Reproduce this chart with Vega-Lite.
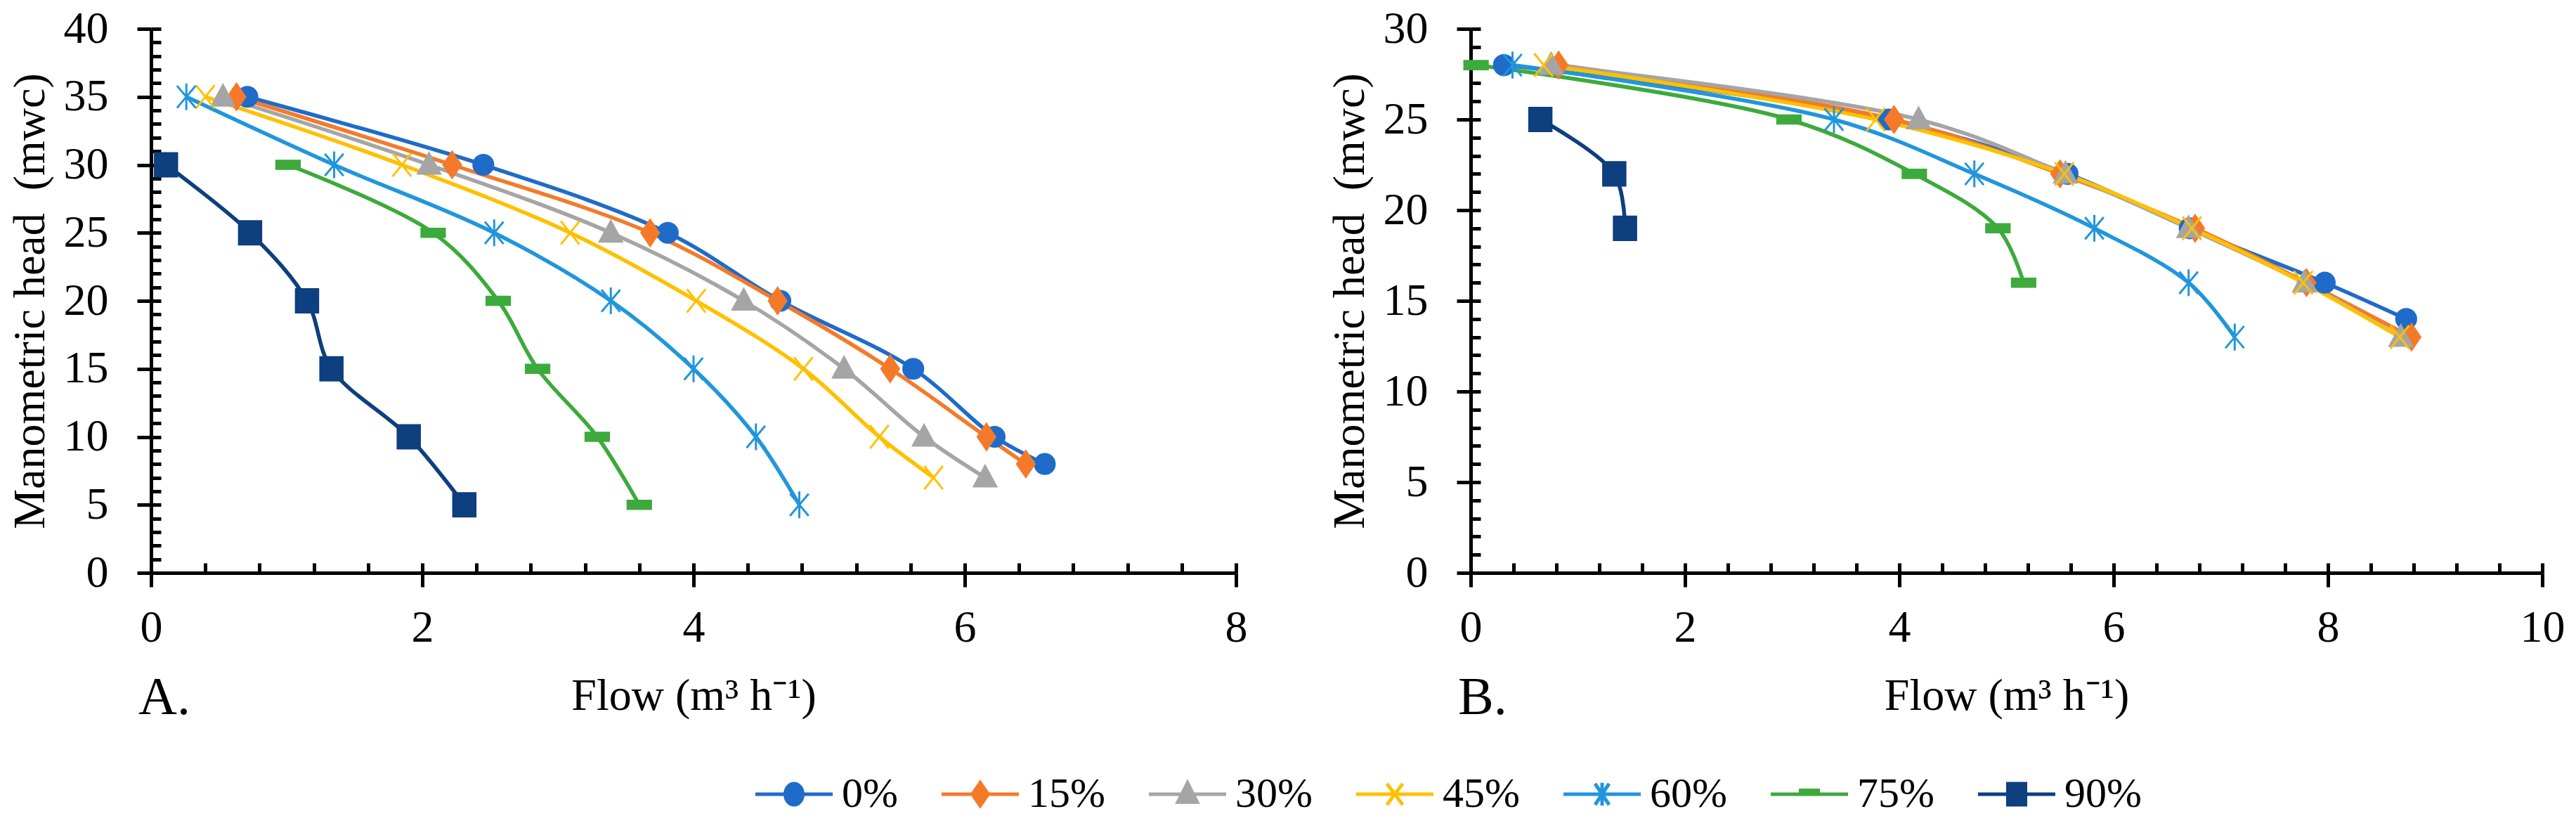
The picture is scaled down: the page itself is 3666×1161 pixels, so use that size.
{
  "$schema": "https://vega.github.io/schema/vega-lite/v6.json",
  "background": "white",
  "padding": {"left": 11, "top": 9, "right": 0, "bottom": 0},
  "config": {
    "view": {"stroke": null},
    "font": "Liberation Serif",
    "axis": {
      "grid": false,
      "domainColor": "black",
      "domainWidth": 5,
      "tickColor": "black",
      "tickWidth": 5,
      "labelColor": "black",
      "labelFont": "Liberation Serif",
      "labelFontSize": 64,
      "titleColor": "black",
      "titleFont": "Liberation Serif",
      "titleFontSize": 64,
      "titleFontWeight": "normal",
      "labelFlush": false,
      "labelOverlap": false
    },
    "title": {"font": "Liberation Serif", "fontSize": 76, "fontWeight": "normal", "color": "black"},
    "concat": {"spacing": 114}
  },
  "datasets": {
    "panelA": [
      {"series": "0%", "flow": 0.71, "head": 35}, {"series": "0%", "flow": 2.45, "head": 30}, {"series": "0%", "flow": 3.81, "head": 25}, {"series": "0%", "flow": 4.64, "head": 20}, {"series": "0%", "flow": 5.62, "head": 15}, {"series": "0%", "flow": 6.22, "head": 10}, {"series": "0%", "flow": 6.59, "head": 8},
      {"series": "15%", "flow": 0.63, "head": 35}, {"series": "15%", "flow": 2.22, "head": 30}, {"series": "15%", "flow": 3.68, "head": 25}, {"series": "15%", "flow": 4.62, "head": 20}, {"series": "15%", "flow": 5.45, "head": 15}, {"series": "15%", "flow": 6.16, "head": 10}, {"series": "15%", "flow": 6.45, "head": 8},
      {"series": "30%", "flow": 0.53, "head": 35}, {"series": "30%", "flow": 2.05, "head": 30}, {"series": "30%", "flow": 3.39, "head": 25}, {"series": "30%", "flow": 4.37, "head": 20}, {"series": "30%", "flow": 5.11, "head": 15}, {"series": "30%", "flow": 5.70, "head": 10}, {"series": "30%", "flow": 6.15, "head": 7},
      {"series": "45%", "flow": 0.40, "head": 35}, {"series": "45%", "flow": 1.85, "head": 30}, {"series": "45%", "flow": 3.09, "head": 25}, {"series": "45%", "flow": 4.02, "head": 20}, {"series": "45%", "flow": 4.81, "head": 15}, {"series": "45%", "flow": 5.37, "head": 10}, {"series": "45%", "flow": 5.77, "head": 7},
      {"series": "60%", "flow": 0.26, "head": 35}, {"series": "60%", "flow": 1.35, "head": 30}, {"series": "60%", "flow": 2.53, "head": 25}, {"series": "60%", "flow": 3.39, "head": 20}, {"series": "60%", "flow": 4.00, "head": 15}, {"series": "60%", "flow": 4.46, "head": 10}, {"series": "60%", "flow": 4.78, "head": 5},
      {"series": "75%", "flow": 1.01, "head": 30}, {"series": "75%", "flow": 2.08, "head": 25}, {"series": "75%", "flow": 2.56, "head": 20}, {"series": "75%", "flow": 2.85, "head": 15}, {"series": "75%", "flow": 3.29, "head": 10}, {"series": "75%", "flow": 3.60, "head": 5},
      {"series": "90%", "flow": 0.11, "head": 30}, {"series": "90%", "flow": 0.73, "head": 25}, {"series": "90%", "flow": 1.15, "head": 20}, {"series": "90%", "flow": 1.33, "head": 15}, {"series": "90%", "flow": 1.90, "head": 10}, {"series": "90%", "flow": 2.31, "head": 5}
    ],
    "panelB": [
      {"series": "0%", "flow": 0.31, "head": 28}, {"series": "0%", "flow": 3.90, "head": 25}, {"series": "0%", "flow": 5.57, "head": 22}, {"series": "0%", "flow": 6.71, "head": 19}, {"series": "0%", "flow": 7.97, "head": 16}, {"series": "0%", "flow": 8.73, "head": 14},
      {"series": "15%", "flow": 0.82, "head": 28}, {"series": "15%", "flow": 3.95, "head": 25}, {"series": "15%", "flow": 5.50, "head": 22}, {"series": "15%", "flow": 6.76, "head": 19}, {"series": "15%", "flow": 7.80, "head": 16}, {"series": "15%", "flow": 8.78, "head": 13},
      {"series": "30%", "flow": 0.75, "head": 28}, {"series": "30%", "flow": 4.18, "head": 25}, {"series": "30%", "flow": 5.55, "head": 22}, {"series": "30%", "flow": 6.70, "head": 19}, {"series": "30%", "flow": 7.78, "head": 16}, {"series": "30%", "flow": 8.68, "head": 13},
      {"series": "45%", "flow": 0.68, "head": 28}, {"series": "45%", "flow": 3.78, "head": 25}, {"series": "45%", "flow": 5.54, "head": 22}, {"series": "45%", "flow": 6.73, "head": 19}, {"series": "45%", "flow": 7.77, "head": 16}, {"series": "45%", "flow": 8.67, "head": 13},
      {"series": "60%", "flow": 0.39, "head": 28}, {"series": "60%", "flow": 3.39, "head": 25}, {"series": "60%", "flow": 4.70, "head": 22}, {"series": "60%", "flow": 5.82, "head": 19}, {"series": "60%", "flow": 6.70, "head": 16}, {"series": "60%", "flow": 7.13, "head": 13},
      {"series": "75%", "flow": 0.05, "head": 28}, {"series": "75%", "flow": 2.97, "head": 25}, {"series": "75%", "flow": 4.14, "head": 22}, {"series": "75%", "flow": 4.92, "head": 19}, {"series": "75%", "flow": 5.16, "head": 16},
      {"series": "90%", "flow": 0.65, "head": 25}, {"series": "90%", "flow": 1.34, "head": 22}, {"series": "90%", "flow": 1.44, "head": 19}
    ]
  },
  "hconcat": [
    {
      "width": 1544,
      "height": 774,
      "data": {"name": "panelA"},
      "title": {"text": "A.", "orient": "bottom", "anchor": "start", "frame": "group", "offset": -66, "dx": -18},
      "layer": [
        {
          "mark": {"type": "line", "interpolate": "catmull-rom", "strokeWidth": 5.5},
          "encoding": {
            "x": {"field": "flow", "type": "quantitative", "scale": {"domain": [0, 8], "nice": false},
              "axis": {"orient": "bottom", "values": [0, 2, 4, 6, 8], "tickSize": 20, "labelPadding": 26, "title": "Flow (m³ h⁻¹)", "titlePadding": 33}},
            "y": {"field": "head", "type": "quantitative", "scale": {"domain": [0, 40], "nice": false},
              "axis": {"orient": "left", "values": [0, 5, 10, 15, 20, 25, 30, 35, 40], "tickSize": 20, "labelPadding": 41, "title": "Manometric head\u00a0 (mwc)", "titlePadding": 15}},
            "color": {"field": "series", "type": "nominal",
              "scale": {"domain": ["0%", "15%", "30%", "45%", "60%", "75%", "90%"], "range": ["#1F6BC9", "#F47A2A", "#A5A5A5", "#FFC000", "#2196DC", "#3DAA3C", "#0E3F7E"]},
              "legend": {"title": null, "orient": "none", "legendX": 885, "legendY": 1059, "direction": "horizontal", "columns": 7, "symbolSize": 2500, "symbolStrokeWidth": 5, "symbolOpacity": 1, "labelFont": "Liberation Serif", "labelFontSize": 60, "labelColor": "black", "labelOffset": 38, "columnPadding": 52}}
          }
        },
        {
          "mark": {"type": "point", "filled": true, "size": 10, "opacity": 0},
          "encoding": {
            "x": {"field": "flow", "type": "quantitative",
              "axis": {"orient": "bottom", "values": [0, 0.4, 0.8, 1.2, 1.6, 2, 2.4, 2.8, 3.2, 3.6, 4, 4.4, 4.8, 5.2, 5.6, 6, 6.4, 6.8, 7.2, 7.6, 8], "tickSize": -14, "labels": false, "domain": false, "title": null}},
            "y": {"field": "head", "type": "quantitative",
              "axis": {"orient": "left", "values": [0, 1, 2, 3, 4, 5, 6, 7, 8, 9, 10, 11, 12, 13, 14, 15, 16, 17, 18, 19, 20, 21, 22, 23, 24, 25, 26, 27, 28, 29, 30, 31, 32, 33, 34, 35, 36, 37, 38, 39, 40], "tickSize": -14, "labels": false, "domain": false, "title": null}},
            "color": {"field": "series", "type": "nominal",
              "legend": {"title": null, "orient": "none", "legendX": 885, "legendY": 1059, "direction": "horizontal", "columns": 7, "symbolSize": 2500, "symbolStrokeWidth": 5, "symbolOpacity": 1, "labelFont": "Liberation Serif", "labelFontSize": 60, "labelColor": "black", "labelOffset": 38, "columnPadding": 52}},
            "stroke": {"field": "series", "type": "nominal",
              "scale": {"domain": ["0%", "15%", "30%", "45%", "60%", "75%", "90%"], "range": ["#1F6BC9", "#F47A2A", "#A5A5A5", "#FFC000", "#2196DC", "#3DAA3C", "#0E3F7E"]},
              "legend": {"title": null, "orient": "none", "legendX": 885, "legendY": 1059, "direction": "horizontal", "columns": 7, "symbolSize": 2500, "symbolStrokeWidth": 5, "symbolOpacity": 1, "labelFont": "Liberation Serif", "labelFontSize": 60, "labelColor": "black", "labelOffset": 38, "columnPadding": 52}},
            "shape": {"field": "series", "type": "nominal",
              "scale": {"domain": ["0%", "15%", "30%", "45%", "60%", "75%", "90%"], "range": ["M-2.2,0H2.2M0.5,0A0.5,0.6,0,1,1,-0.5,0A0.5,0.6,0,1,1,0.5,0Z", "M-2.2,0H2.2M0,-0.65L0.45,0L0,0.65L-0.45,0Z", "M-2.2,0H2.2M0,-0.65L0.55,0.45L-0.55,0.45Z", "M-2.2,0H2.2M-0.45,-0.6L0.45,0.6M-0.45,0.6L0.45,-0.6", "M-2.2,0H2.2M-0.4,-0.6L0.4,0.6M-0.4,0.6L0.4,-0.6M0,-0.65V0.65", "M-2.2,0H2.2M-0.5,-0.22H0.5V0H-0.5Z", "M-2.2,0H2.2M-0.5,-0.6H0.5V0.6H-0.5Z"]},
              "legend": {"title": null, "orient": "none", "legendX": 885, "legendY": 1059, "direction": "horizontal", "columns": 7, "symbolSize": 2500, "symbolStrokeWidth": 5, "symbolOpacity": 1, "labelFont": "Liberation Serif", "labelFontSize": 60, "labelColor": "black", "labelOffset": 38, "columnPadding": 52}}
          }
        },
        {"transform": [{"filter": {"field": "series", "equal": "0%"}}], "mark": {"type": "point", "shape": "M0.85,0A0.85,0.85,0,1,1,-0.85,0A0.85,0.85,0,1,1,0.85,0Z", "filled": true, "fill": "#1F6BC9", "stroke": "#1F6BC9", "size": 1100, "strokeWidth": 3, "opacity": 1},
          "encoding": {"x": {"field": "flow", "type": "quantitative", "axis": null}, "y": {"field": "head", "type": "quantitative", "axis": null}}},
        {"transform": [{"filter": {"field": "series", "equal": "15%"}}], "mark": {"type": "point", "shape": "M0,-1.1L0.75,0L0,1.1L-0.75,0Z", "filled": true, "fill": "#F47A2A", "stroke": "#F47A2A", "size": 1100, "strokeWidth": 3, "opacity": 1},
          "encoding": {"x": {"field": "flow", "type": "quantitative", "axis": null}, "y": {"field": "head", "type": "quantitative", "axis": null}}},
        {"transform": [{"filter": {"field": "series", "equal": "30%"}}], "mark": {"type": "point", "shape": "M0,-1L0.95,0.75L-0.95,0.75Z", "filled": true, "fill": "#A5A5A5", "stroke": "#A5A5A5", "size": 1100, "strokeWidth": 3, "opacity": 1},
          "encoding": {"x": {"field": "flow", "type": "quantitative", "axis": null}, "y": {"field": "head", "type": "quantitative", "axis": null}}},
        {"transform": [{"filter": {"field": "series", "equal": "45%"}}], "mark": {"type": "point", "shape": "M-0.8,-1L0.8,1M-0.8,1L0.8,-1", "filled": true, "fill": "#FFC000", "stroke": "#FFC000", "size": 1100, "strokeWidth": 3, "opacity": 1},
          "encoding": {"x": {"field": "flow", "type": "quantitative", "axis": null}, "y": {"field": "head", "type": "quantitative", "axis": null}}},
        {"transform": [{"filter": {"field": "series", "equal": "60%"}}], "mark": {"type": "point", "shape": "M-0.8,-0.95L0.8,0.95M-0.8,0.95L0.8,-0.95M0,-1.15V1.15", "filled": true, "fill": "#2196DC", "stroke": "#2196DC", "size": 1100, "strokeWidth": 3, "opacity": 1},
          "encoding": {"x": {"field": "flow", "type": "quantitative", "axis": null}, "y": {"field": "head", "type": "quantitative", "axis": null}}},
        {"transform": [{"filter": {"field": "series", "equal": "75%"}}], "mark": {"type": "point", "shape": "M-1,-0.35H1V0.35H-1Z", "filled": true, "fill": "#3DAA3C", "stroke": "#3DAA3C", "size": 1100, "strokeWidth": 3, "opacity": 1},
          "encoding": {"x": {"field": "flow", "type": "quantitative", "axis": null}, "y": {"field": "head", "type": "quantitative", "axis": null}}},
        {"transform": [{"filter": {"field": "series", "equal": "90%"}}], "mark": {"type": "point", "shape": "M-0.95,-1H0.95V1H-0.95Z", "filled": true, "fill": "#0E3F7E", "stroke": "#0E3F7E", "size": 1100, "strokeWidth": 3, "opacity": 1},
          "encoding": {"x": {"field": "flow", "type": "quantitative", "axis": null}, "y": {"field": "head", "type": "quantitative", "axis": null}}}
      ],
      "resolve": {"axis": {"x": "independent", "y": "independent"}}
    },
    {
      "width": 1525,
      "height": 774,
      "data": {"name": "panelB"},
      "title": {"text": "B.", "orient": "bottom", "anchor": "start", "frame": "group", "offset": -66, "dx": -18},
      "layer": [
        {
          "mark": {"type": "line", "interpolate": "catmull-rom", "strokeWidth": 5.5},
          "encoding": {
            "x": {"field": "flow", "type": "quantitative", "scale": {"domain": [0, 10], "nice": false},
              "axis": {"orient": "bottom", "values": [0, 2, 4, 6, 8, 10], "tickSize": 20, "labelPadding": 26, "title": "Flow (m³ h⁻¹)", "titlePadding": 33}},
            "y": {"field": "head", "type": "quantitative", "scale": {"domain": [0, 30], "nice": false},
              "axis": {"orient": "left", "values": [0, 5, 10, 15, 20, 25, 30], "tickSize": 20, "labelPadding": 41, "title": "Manometric head\u00a0 (mwc)", "titlePadding": 15}},
            "color": {"field": "series", "type": "nominal",
              "legend": {"title": null, "orient": "none", "legendX": 885, "legendY": 1059, "direction": "horizontal", "columns": 7, "symbolSize": 2500, "symbolStrokeWidth": 5, "symbolOpacity": 1, "labelFont": "Liberation Serif", "labelFontSize": 60, "labelColor": "black", "labelOffset": 38, "columnPadding": 52}}
          }
        },
        {
          "mark": {"type": "point", "size": 10, "opacity": 0},
          "encoding": {
            "x": {"field": "flow", "type": "quantitative",
              "axis": {"orient": "bottom", "values": [0, 0.4, 0.8, 1.2, 1.6, 2, 2.4, 2.8, 3.2, 3.6, 4, 4.4, 4.8, 5.2, 5.6, 6, 6.4, 6.8, 7.2, 7.6, 8, 8.4, 8.8, 9.2, 9.6, 10], "tickSize": -14, "labels": false, "domain": false, "title": null}},
            "y": {"field": "head", "type": "quantitative",
              "axis": {"orient": "left", "values": [0, 1, 2, 3, 4, 5, 6, 7, 8, 9, 10, 11, 12, 13, 14, 15, 16, 17, 18, 19, 20, 21, 22, 23, 24, 25, 26, 27, 28, 29, 30], "tickSize": -14, "labels": false, "domain": false, "title": null}}
          }
        },
        {"transform": [{"filter": {"field": "series", "equal": "0%"}}], "mark": {"type": "point", "shape": "M0.85,0A0.85,0.85,0,1,1,-0.85,0A0.85,0.85,0,1,1,0.85,0Z", "filled": true, "fill": "#1F6BC9", "stroke": "#1F6BC9", "size": 1100, "strokeWidth": 3, "opacity": 1},
          "encoding": {"x": {"field": "flow", "type": "quantitative", "axis": null}, "y": {"field": "head", "type": "quantitative", "axis": null}}},
        {"transform": [{"filter": {"field": "series", "equal": "15%"}}], "mark": {"type": "point", "shape": "M0,-1.1L0.75,0L0,1.1L-0.75,0Z", "filled": true, "fill": "#F47A2A", "stroke": "#F47A2A", "size": 1100, "strokeWidth": 3, "opacity": 1},
          "encoding": {"x": {"field": "flow", "type": "quantitative", "axis": null}, "y": {"field": "head", "type": "quantitative", "axis": null}}},
        {"transform": [{"filter": {"field": "series", "equal": "30%"}}], "mark": {"type": "point", "shape": "M0,-1L0.95,0.75L-0.95,0.75Z", "filled": true, "fill": "#A5A5A5", "stroke": "#A5A5A5", "size": 1100, "strokeWidth": 3, "opacity": 1},
          "encoding": {"x": {"field": "flow", "type": "quantitative", "axis": null}, "y": {"field": "head", "type": "quantitative", "axis": null}}},
        {"transform": [{"filter": {"field": "series", "equal": "45%"}}], "mark": {"type": "point", "shape": "M-0.8,-1L0.8,1M-0.8,1L0.8,-1", "filled": true, "fill": "#FFC000", "stroke": "#FFC000", "size": 1100, "strokeWidth": 3, "opacity": 1},
          "encoding": {"x": {"field": "flow", "type": "quantitative", "axis": null}, "y": {"field": "head", "type": "quantitative", "axis": null}}},
        {"transform": [{"filter": {"field": "series", "equal": "60%"}}], "mark": {"type": "point", "shape": "M-0.8,-0.95L0.8,0.95M-0.8,0.95L0.8,-0.95M0,-1.15V1.15", "filled": true, "fill": "#2196DC", "stroke": "#2196DC", "size": 1100, "strokeWidth": 3, "opacity": 1},
          "encoding": {"x": {"field": "flow", "type": "quantitative", "axis": null}, "y": {"field": "head", "type": "quantitative", "axis": null}}},
        {"transform": [{"filter": {"field": "series", "equal": "75%"}}], "mark": {"type": "point", "shape": "M-1,-0.35H1V0.35H-1Z", "filled": true, "fill": "#3DAA3C", "stroke": "#3DAA3C", "size": 1100, "strokeWidth": 3, "opacity": 1},
          "encoding": {"x": {"field": "flow", "type": "quantitative", "axis": null}, "y": {"field": "head", "type": "quantitative", "axis": null}}},
        {"transform": [{"filter": {"field": "series", "equal": "90%"}}], "mark": {"type": "point", "shape": "M-0.95,-1H0.95V1H-0.95Z", "filled": true, "fill": "#0E3F7E", "stroke": "#0E3F7E", "size": 1100, "strokeWidth": 3, "opacity": 1},
          "encoding": {"x": {"field": "flow", "type": "quantitative", "axis": null}, "y": {"field": "head", "type": "quantitative", "axis": null}}}
      ],
      "resolve": {"axis": {"x": "independent", "y": "independent"}}
    }
  ]
}
